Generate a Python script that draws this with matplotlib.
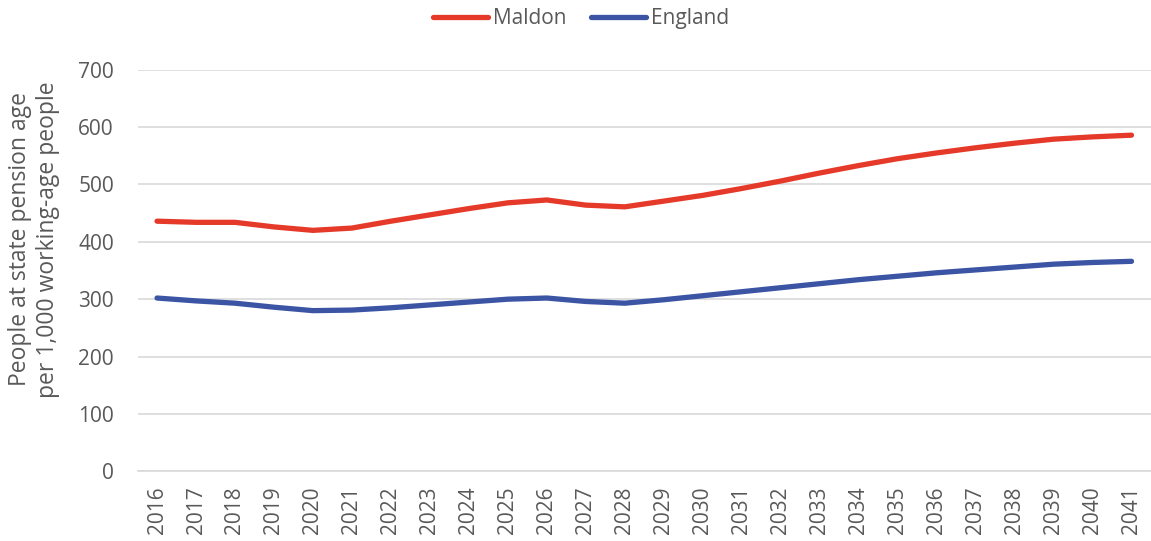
import matplotlib
matplotlib.use("Agg")
import matplotlib.pyplot as plt

years = list(range(2016, 2042))
maldon = [436, 434, 434, 426, 420, 424, 436, 447, 458, 468, 473, 464, 461,
          471, 481, 493, 506, 520, 533, 545, 555, 564, 572, 579, 583, 586]
england = [302, 297, 293, 286, 280, 281, 285, 290, 295, 300, 302, 296, 293,
           299, 306, 313, 320, 327, 334, 340, 346, 351, 356, 361, 364, 366]
y_ticks = [0, 100, 200, 300, 400, 500, 600, 700]

plt.rcParams['font.family'] = ['Open Sans', 'DejaVu Sans']
text_col = '#595959'

fig = plt.figure(figsize=(11.51, 5.41), dpi=100)
ax = fig.add_axes([0.1195, 0.129, 0.8805, 0.742])

ax.plot(years, maldon, color='#E53A29', lw=3.8, solid_capstyle='round', label='Maldon')
ax.plot(years, england, color='#3B54A4', lw=3.8, solid_capstyle='round', label='England')

ax.set_xlim(years[0] - 0.5, years[-1] + 0.5)
ax.set_ylim(0, 700)
ax.set_yticks(y_ticks)
ax.set_xticks(years)
ax.set_xticklabels([str(y) for y in years], rotation=90)
ax.tick_params(axis='both', colors=text_col, labelsize=15, length=0)
ax.tick_params(axis='y', pad=17)
ax.tick_params(axis='x', pad=11)
ax.grid(axis='y', color='#D9D9D9', lw=1.2)
ax.set_axisbelow(True)
for s in ['top', 'right', 'left']:
    ax.spines[s].set_visible(False)
ax.spines['bottom'].set_color('#D9D9D9')
ax.spines['bottom'].set_linewidth(1.2)

ax.set_ylabel('People at state pension age\nper 1,000 working-age people',
              color=text_col, fontsize=16.5, linespacing=1.2)
ax.yaxis.set_label_coords(-0.077, 0.578)

fig.legend(loc='upper center', bbox_to_anchor=(0.505, 1.02), ncol=2, frameon=False,
           fontsize=15, handlelength=2.65, handletextpad=0.25, columnspacing=1.15,
           labelcolor=text_col)

fig.savefig('out.png', dpi=100)
